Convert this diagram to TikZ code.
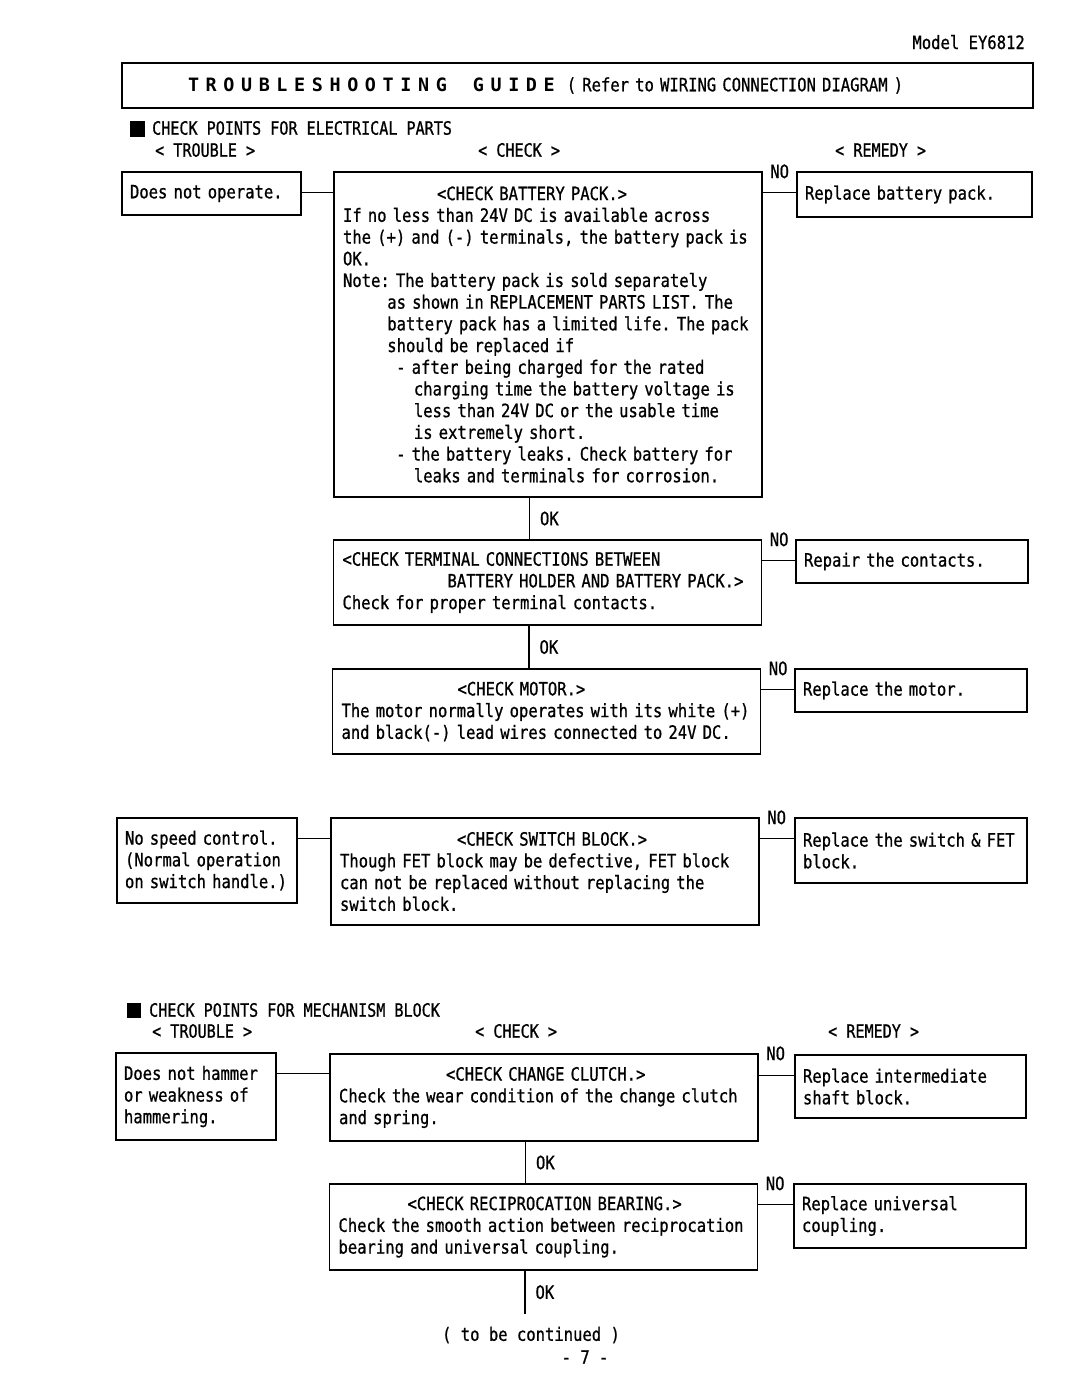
\documentclass[tikz,border=0pt]{standalone}
\usepackage{fontspec}
\setmainfont[FakeStretch=0.845,FakeBold=0.8]{DejaVu Sans Mono}
\newfontfamily\headfont[FakeStretch=0.82,FakeBold=0.8]{DejaVu Sans Mono}
\newfontfamily\wideletters[LetterSpace=36]{DejaVu Sans Mono}
\frenchspacing
\begin{document}
\begin{tikzpicture}[x=1pt,y=-1pt,
  every node/.style={font=\fontsize{18.4}{21.7}\selectfont},
  box/.style={draw,line width=1.3pt,align=left,inner xsep=8pt,inner ysep=0pt},
  chk/.style={box,inner xsep=9pt,text width=410pt,minimum width=428pt},
  rem/.style={box,text width=216pt,minimum width=232pt},
  lbl/.style={inner sep=0pt,anchor=west,font=\headfont\fontsize{18.4}{21.7}\selectfont},
  nolbl/.style={inner sep=0pt},
  ok/.style={anchor=west,inner sep=0pt,xshift=10pt},
  link/.style={line width=1.3pt}]
\useasboundingbox (0,0) rectangle (1080,1387);

\node[inner sep=0pt,anchor=base east] (model) at (1025,49) {Model EY6812};
\node[draw,line width=1.3pt,minimum width=911pt,minimum height=45pt,text width=845pt,inner xsep=33pt,inner ysep=0pt,align=left] (title) at (577.5,85.5)
  {\hspace*{33pt}{\wideletters\bfseries TROUBLESHOOTING\hspace{26pt}GUIDE}\hspace{12pt}( Refer to WIRING CONNECTION DIAGRAM )};

\fill (130,121) rectangle (145,137);
\node[lbl] (sec1) at (152,128) {CHECK POINTS FOR ELECTRICAL PARTS};
\node[lbl] (trb1) at (155,150) {< TROUBLE >};
\node[lbl] (chk1) at (478,150) {< CHECK >};
\node[lbl] (rem1) at (835,150) {< REMEDY >};

\node[box,text width=163pt,minimum width=179pt,minimum height=43pt] (t1) at (211.5,193.5) {Does not operate.};
\node[chk,minimum height=325pt] (c1) at (548,334.5) {\hspace*{94pt}<CHECK BATTERY PACK.>\\
If no less than 24V DC is available across\\
the (+) and (-) terminals, the battery pack is\\
OK.\\
Note: The battery pack is sold separately\\
\hspace*{44.3pt}as shown in REPLACEMENT PARTS LIST. The\\
\hspace*{44.3pt}battery pack has a limited life. The pack\\
\hspace*{44.3pt}should be replaced if\\
\hspace*{53.2pt}- after being charged for the rated\\
\hspace*{70.9pt}charging time the battery voltage is\\
\hspace*{70.9pt}less than 24V DC or the usable time\\
\hspace*{70.9pt}is extremely short.\\
\hspace*{53.2pt}- the battery leaks. Check battery for\\
\hspace*{70.9pt}leaks and terminals for corrosion.};
\node[rem,text width=219pt,minimum width=235pt,minimum height=45pt] (r1) at (914.5,194.5) {Replace battery pack.};

\node[chk,minimum height=85pt] (c2) at (547.5,582.5) {<CHECK TERMINAL CONNECTIONS BETWEEN\\
\hspace*{105pt}BATTERY HOLDER AND BATTERY PACK.>\\
Check for proper terminal contacts.};
\node[rem,minimum height=43pt] (r2) at (912,561.5) {Repair the contacts.};

\node[chk,minimum height=85pt] (c3) at (546.5,711.5) {\hspace*{116pt}<CHECK MOTOR.>\\
The motor normally operates with its white (+)\\
and black(-) lead wires connected to 24V DC.};
\node[rem,minimum height=43pt] (r3) at (911,690.5) {Replace the motor.};

\node[box,text width=164pt,minimum width=180pt,minimum height=85pt] (t2) at (207,860.5) {No speed control.\\
(Normal operation\\
on switch handle.)};
\node[chk,minimum height=107pt] (c4) at (545,871.5) {\hspace*{117pt}<CHECK SWITCH BLOCK.>\\
Though FET block may be defective, FET block\\
can not be replaced without replacing the\\
switch block.};
\node[rem,minimum height=65pt] (r4) at (911,850.5) {Replace the switch \& FET\\
block.};

\fill (127,1003) rectangle (141,1018);
\node[lbl] (sec2) at (149,1010) {CHECK POINTS FOR MECHANISM BLOCK};
\node[lbl] (trb2) at (152,1031) {< TROUBLE >};
\node[lbl] (chk2) at (475,1031) {< CHECK >};
\node[lbl] (rem2) at (828,1031) {< REMEDY >};

\node[box,text width=144pt,minimum width=160pt,minimum height=87pt] (t3) at (196,1096.5) {Does not hammer\\
or weakness of\\
hammering.};
\node[chk,minimum height=87pt] (c5) at (544,1097.5) {\hspace*{107pt}<CHECK CHANGE CLUTCH.>\\
Check the wear condition of the change clutch\\
and spring.};
\node[rem,text width=215pt,minimum width=231pt,minimum height=63pt] (r5) at (910.5,1086.5) {Replace intermediate\\
shaft block.};

\node[chk,minimum height=86pt] (c6) at (543.5,1227) {\hspace*{69pt}<CHECK RECIPROCATION BEARING.>\\
Check the smooth action between reciprocation\\
bearing and universal coupling.};
\node[rem,minimum height=64pt] (r6) at (910,1216) {Replace universal\\
coupling.};

\coordinate (endpt) at ([xshift=196pt,yshift=-43pt]c6.south west);
\node (cont) at (531,1335) {( to be continued )};
\node (pg) at (585,1357) {- 7 -};

\foreach \t/\c in {t1/c1,t2/c4,t3/c5}
  \draw[link] ([yshift=-21pt]\t.north east) -- ([yshift=-21pt]\t.north east -| \c.west);
\foreach \c/\r/\n in {c1/r1/1,c2/r2/2,c3/r3/3,c4/r4/4,c5/r5/5,c6/r6/6}{
  \draw[link] ([yshift=-21pt]\r.north west -| \c.east) -- ([yshift=-21pt]\r.north west);
  \node[nolbl] (no\n) at ([xshift=17pt]\c.north east) {NO};
}
\foreach \a/\b/\n in {c1/c2/1,c2/c3/2,c5/c6/3}
  \draw[link] ([xshift=196pt]\a.south west) -- node[ok] (ok\n) {OK} ([xshift=196pt]\a.south west |- \b.north);
\draw[link] ([xshift=196pt]c6.south west) -- node[ok] (ok4) {OK} (endpt);
\end{tikzpicture}
\end{document}
